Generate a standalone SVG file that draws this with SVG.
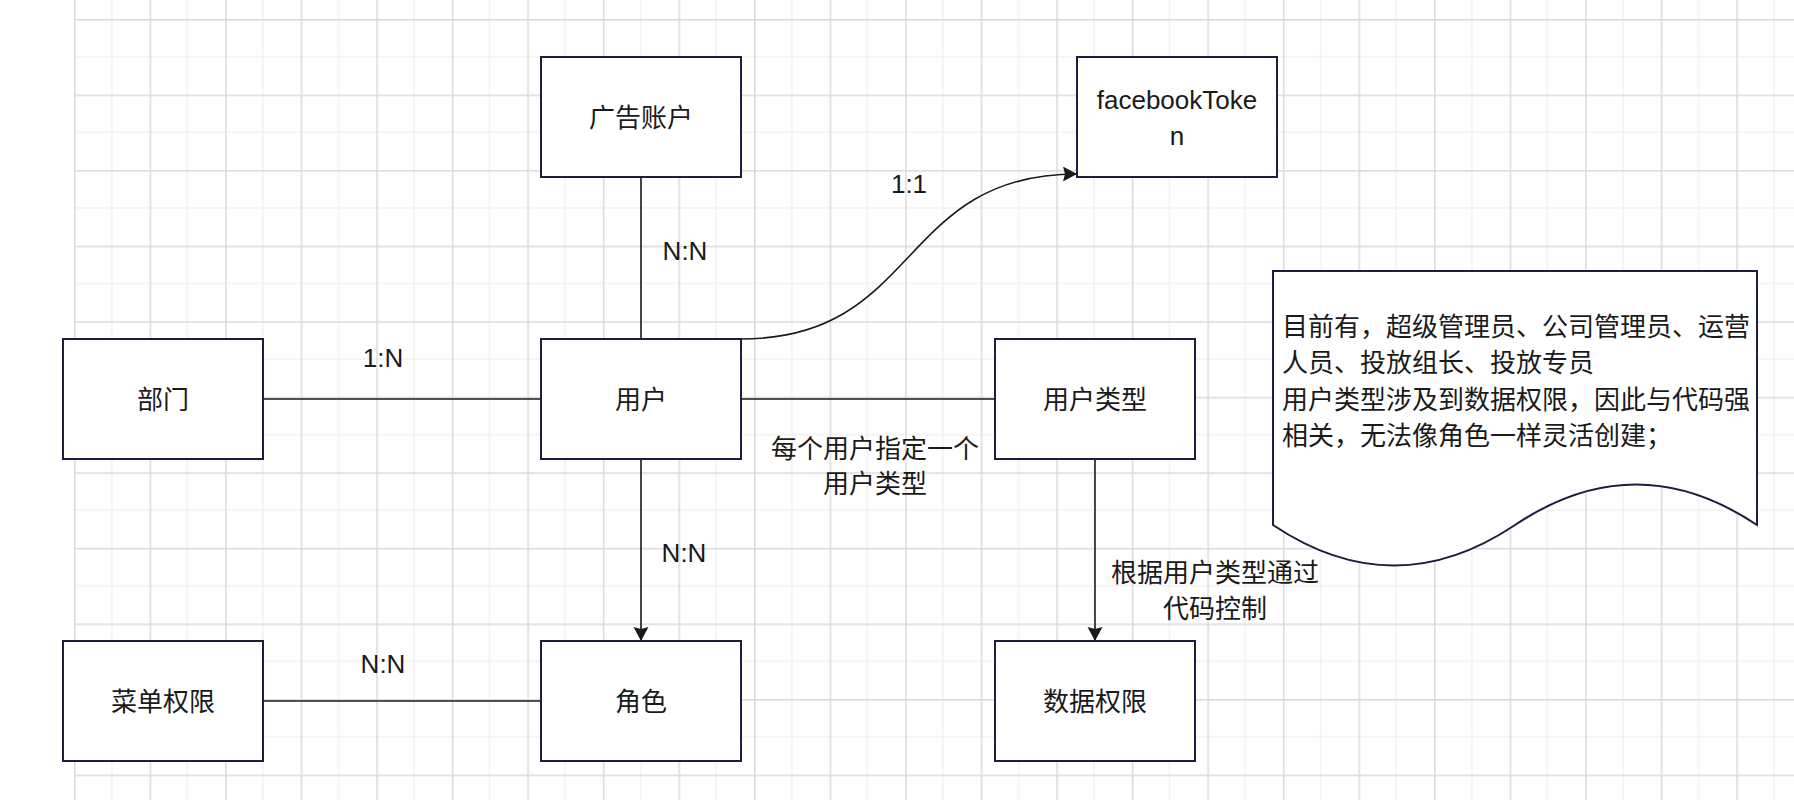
<svg xmlns="http://www.w3.org/2000/svg" width="1794" height="800" viewBox="0 0 1794 800">
<defs>
<pattern id="grid" patternUnits="userSpaceOnUse" x="74" y="19" width="75.56" height="75.56">
<rect x="0" y="0" width="75.56" height="75.56" fill="#ffffff"/>
<rect x="37.28" y="0" width="1" height="75.56" fill="#ececec"/>
<rect x="0" y="37.28" width="75.56" height="1" fill="#ececec"/>
<rect x="0" y="0" width="1.5" height="75.56" fill="#dadada"/>
<rect x="0" y="0" width="75.56" height="1.5" fill="#dadada"/>
</pattern>
<marker id="arr" markerWidth="16" markerHeight="16" refX="14" refY="7.5" orient="auto" markerUnits="userSpaceOnUse">
<path d="M0,0 L14,7.5 L0,15 L2,7.5 Z" fill="#1a1a1a"/>
</marker>
<style>
.box{fill:#ffffff;stroke:#1b1e3d;stroke-width:2}
.t{font-family:"Liberation Sans","Noto Sans CJK SC",sans-serif;font-size:26px;fill:#1a1a1a}
.m{text-anchor:middle}
.edge{fill:none;stroke:#1a1a1a;stroke-width:1.6}
</style>
</defs>
<rect x="0" y="0" width="1794" height="800" fill="#ffffff"/>
<rect x="74" y="0" width="1720" height="800" fill="url(#grid)"/>

<g id="connectors">
<line class="edge" x1="641" y1="177" x2="641" y2="339"/>
<line class="edge" x1="263" y1="399" x2="541" y2="399"/>
<line class="edge" x1="741" y1="399" x2="995" y2="399"/>
<path class="edge" d="M741,339 C921,339 897,174 1077,174" marker-end="url(#arr)"/>
<line class="edge" x1="641" y1="459" x2="641" y2="641" marker-end="url(#arr)"/>
<line class="edge" x1="1095" y1="459" x2="1095" y2="641" marker-end="url(#arr)"/>
<line class="edge" x1="263" y1="701" x2="541" y2="701"/>
<text class="t m" x="383" y="367">1:N</text>
<text class="t m" x="685" y="260">N:N</text>
<text class="t m" x="909" y="193">1:1</text>
<text class="t m" x="684" y="562">N:N</text>
<text class="t m" x="383" y="673">N:N</text>
<text class="t m" x="875" y="458">每个用户指定一个</text>
<text class="t m" x="875" y="493">用户类型</text>
<text class="t m" x="1215" y="582">根据用户类型通过</text>
<text class="t m" x="1215" y="618">代码控制</text>
</g>

<g id="node-ad-account">
<rect class="box" x="541" y="57" width="200" height="120"/>
<text class="t m" x="641" y="127">广告账户</text>
</g>
<g id="node-facebook-token">
<rect class="box" x="1077" y="57" width="200" height="120"/>
<text class="t m" x="1177" y="109">facebookToke</text>
<text class="t m" x="1177" y="145">n</text>
</g>
<g id="node-department">
<rect class="box" x="63" y="339" width="200" height="120"/>
<text class="t m" x="163" y="409">部门</text>
</g>
<g id="node-user">
<rect class="box" x="541" y="339" width="200" height="120"/>
<text class="t m" x="641" y="409">用户</text>
</g>
<g id="node-user-type">
<rect class="box" x="995" y="339" width="200" height="120"/>
<text class="t m" x="1095" y="409">用户类型</text>
</g>
<g id="node-menu-permission">
<rect class="box" x="63" y="641" width="200" height="120"/>
<text class="t m" x="163" y="711">菜单权限</text>
</g>
<g id="node-role">
<rect class="box" x="541" y="641" width="200" height="120"/>
<text class="t m" x="641" y="711">角色</text>
</g>
<g id="node-data-permission">
<rect class="box" x="995" y="641" width="200" height="120"/>
<text class="t m" x="1095" y="711">数据权限</text>
</g>
<g id="node-note">
<path class="box" d="M1273,271 L1757,271 L1757,525 Q1636,444 1515,525 Q1394,606 1273,525 Z"/>
<text class="t" x="1282" y="336">目前有，超级管理员、公司管理员、运营</text>
<text class="t" x="1282" y="372">人员、投放组长、投放专员</text>
<text class="t" x="1282" y="409">用户类型涉及到数据权限，因此与代码强</text>
<text class="t" x="1282" y="445">相关，无法像角色一样灵活创建；</text>
</g>
</svg>
